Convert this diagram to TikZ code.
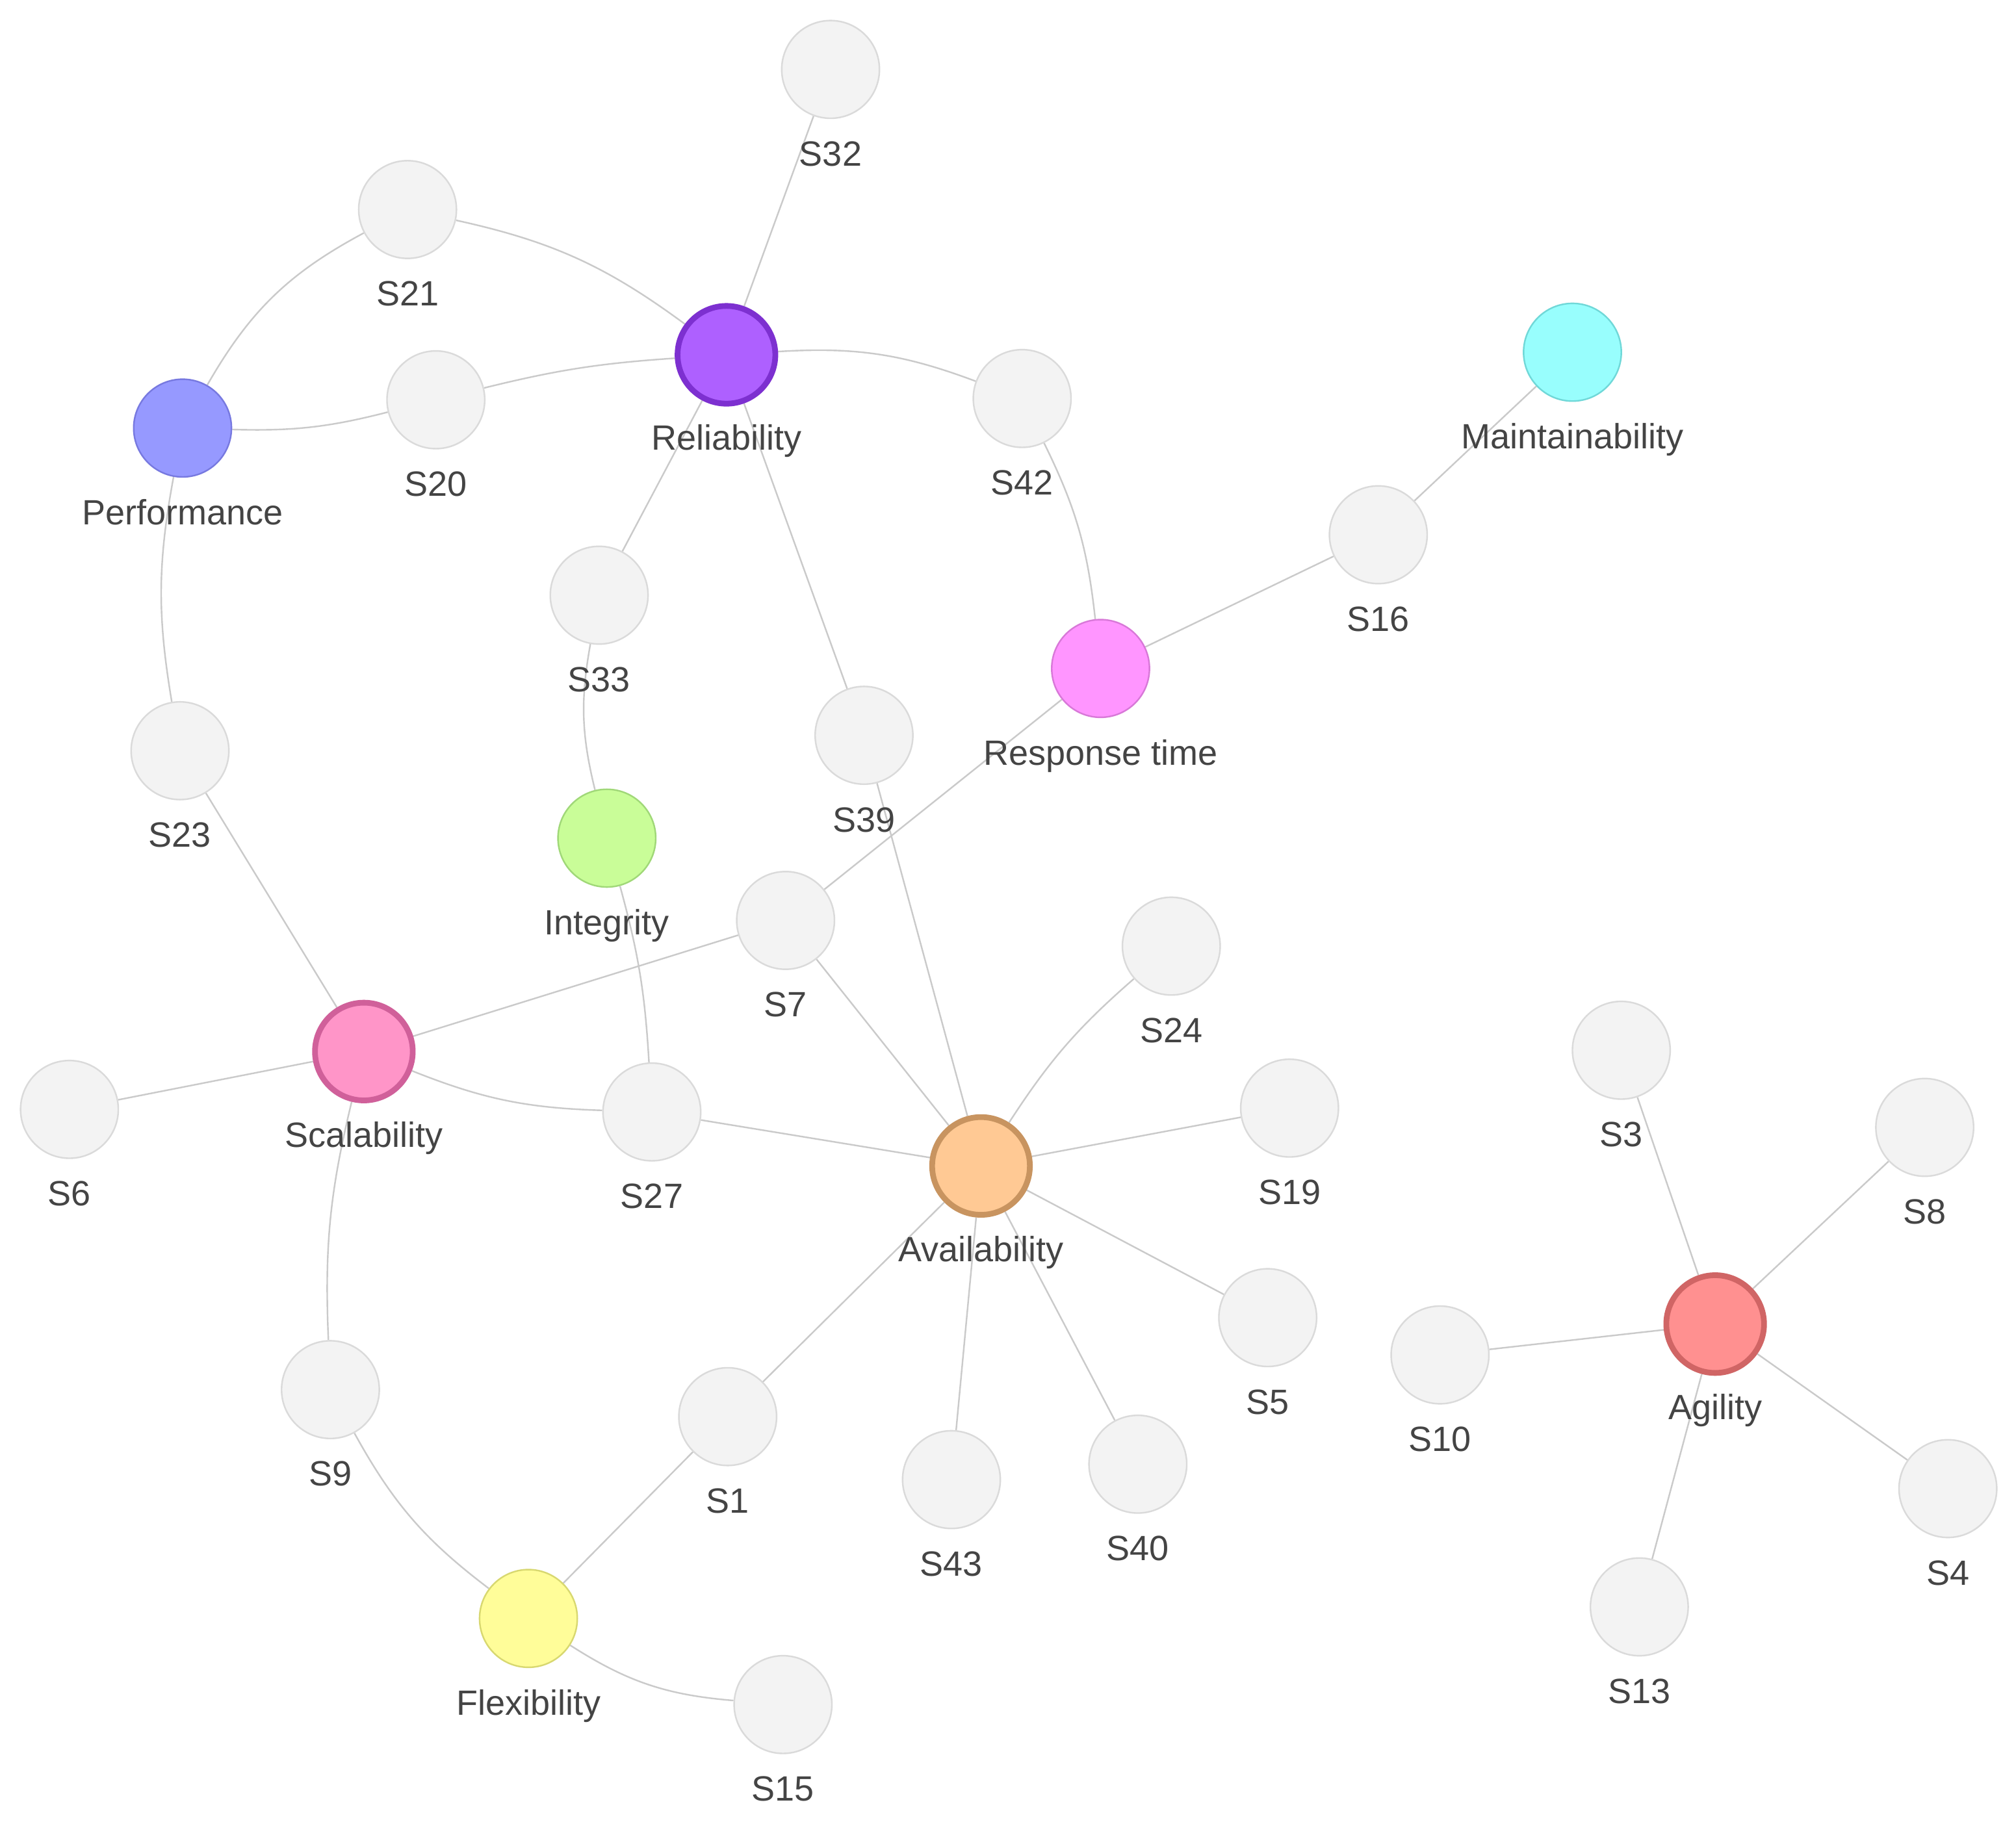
\documentclass[tikz,border=0pt]{standalone}
\usepackage{fontspec}
\setmainfont{Liberation Sans}
\usetikzlibrary{backgrounds}
\pgfdeclarelayer{bgfill}
\pgfsetlayers{bgfill,background,main}
\definecolor{edgec}{HTML}{CACACA}
\definecolor{labc}{HTML}{444444}
\definecolor{grayf}{HTML}{F3F3F3}
\definecolor{grayd}{HTML}{DADADA}
\definecolor{relf}{HTML}{AE60FF}
\definecolor{reld}{HTML}{7D30D0}
\definecolor{avf}{HTML}{FFC994}
\definecolor{avd}{HTML}{C89460}
\definecolor{agf}{HTML}{FF9090}
\definecolor{agd}{HTML}{D06565}
\definecolor{scf}{HTML}{FF95C8}
\definecolor{scd}{HTML}{D0609A}
\definecolor{perf}{HTML}{9699FF}
\definecolor{perd}{HTML}{7779E0}
\definecolor{maf}{HTML}{98FEFD}
\definecolor{mad}{HTML}{70D8D8}
\definecolor{ref}{HTML}{FF95FF}
\definecolor{red}{HTML}{D878D8}
\definecolor{inf}{HTML}{C9FD98}
\definecolor{ind}{HTML}{A0D878}
\definecolor{flf}{HTML}{FFFD99}
\definecolor{fld}{HTML}{D8D870}
\begin{document}
\begin{tikzpicture}[x=0.4946pt,y=-0.4946pt,
  base/.style={circle, minimum size=37.6pt, inner sep=0pt, line width=0.6pt},
  grayn/.style={base, fill=grayf, draw=grayd},
  big/.style={base, line width=2.2pt},
  lab/.style={anchor=base, label distance=18pt, font=\fontsize{13.5}{16}\selectfont, text=labc, inner sep=0pt},
  edge/.style={draw=edgec, line width=0.6pt}]
\begin{pgfonlayer}{bgfill}
\fill[white] (0,0) rectangle (1568,1417);
\end{pgfonlayer}
\useasboundingbox (0,0) rectangle (1568,1417);

% colored nodes
\node[big, fill=relf, draw=reld, label={[lab,name=RelL,label distance=16.8pt]below:Reliability}] (Rel) at (565,276) {};
\node[big, fill=avf, draw=avd, label={[lab,name=AvailL,label distance=16.8pt]below:Availability}] (Avail) at (763,907) {};
\node[big, fill=agf, draw=agd, label={[lab,name=AgilL,label distance=16.8pt]below:Agility}] (Agil) at (1334,1030) {};
\node[big, fill=scf, draw=scd, label={[lab,name=ScalL,label distance=16.8pt]below:Scalability}] (Scal) at (283,818) {};
\node[base, fill=perf, draw=perd, label={[lab,name=PerfL]below:Performance}] (Perf) at (142,333) {};
\node[base, fill=maf, draw=mad, label={[lab,name=MaintL]below:Maintainability}] (Maint) at (1223,274) {};
\node[base, fill=ref, draw=red, label={[lab,name=RespL]below:Response time}] (Resp) at (856,520) {};
\node[base, fill=inf, draw=ind, label={[lab,name=IntegL]below:Integrity}] (Integ) at (472,652) {};
\node[base, fill=flf, draw=fld, label={[lab,name=FlexL]below:Flexibility}] (Flex) at (411,1259) {};

% gray nodes
\node[grayn, label={[lab,name=S32L]below:S32}] (S32) at (646,54) {};
\node[grayn, label={[lab,name=S21L]below:S21}] (S21) at (317,163) {};
\node[grayn, label={[lab,name=S20L]below:S20}] (S20) at (339,311) {};
\node[grayn, label={[lab,name=S42L]below:S42}] (S42) at (795,310) {};
\node[grayn, label={[lab,name=S16L]below:S16}] (S16) at (1072,416) {};
\node[grayn, label={[lab,name=S33L]below:S33}] (S33) at (466,463) {};
\node[grayn, label={[lab,name=S23L]below:S23}] (S23) at (140,584) {};
\node[grayn, label={[lab,name=S39L]below:S39}] (S39) at (672,572) {};
\node[grayn, label={[lab,name=S7L]below:S7}] (S7) at (611,716) {};
\node[grayn, label={[lab,name=S24L]below:S24}] (S24) at (911,736) {};
\node[grayn, label={[lab,name=S6L]below:S6}] (S6) at (54,863) {};
\node[grayn, label={[lab,name=S27L]below:S27}] (S27) at (507,865) {};
\node[grayn, label={[lab,name=S19L]below:S19}] (S19) at (1003,862) {};
\node[grayn, label={[lab,name=S3L]below:S3}] (S3) at (1261,817) {};
\node[grayn, label={[lab,name=S8L]below:S8}] (S8) at (1497,877) {};
\node[grayn, label={[lab,name=S5L]below:S5}] (S5) at (986,1025) {};
\node[grayn, label={[lab,name=S10L]below:S10}] (S10) at (1120,1054) {};
\node[grayn, label={[lab,name=S9L]below:S9}] (S9) at (257,1081) {};
\node[grayn, label={[lab,name=S1L]below:S1}] (S1) at (566,1102) {};
\node[grayn, label={[lab,name=S43L]below:S43}] (S43) at (740,1151) {};
\node[grayn, label={[lab,name=S40L]below:S40}] (S40) at (885,1139) {};
\node[grayn, label={[lab,name=S4L]below:S4}] (S4) at (1515,1158) {};
\node[grayn, label={[lab,name=S13L]below:S13}] (S13) at (1275,1250) {};
\node[grayn, label={[lab,name=S15L]below:S15}] (S15) at (609,1326) {};

\begin{pgfonlayer}{background}
% curved edges
\draw[edge] (S21) to[bend left=12] (Rel);
\draw[edge] (S21) to[bend right=16] (Perf);
\draw[edge] (Perf) to[bend right=8] (S20);
\draw[edge] (S20) to[bend left=5] (Rel);
\draw[edge] (Rel) to[bend left=12] (S42);
\draw[edge] (S42) to[bend left=10] (Resp);
\draw[edge] (S33) to[bend right=12] (Integ);
\draw[edge] (Integ) to[bend left=6] (S27);
\draw[edge] (Perf) to[bend right=10] (S23);
\draw[edge] (Scal) to[bend right=10] (S27);
\draw[edge] (Scal) to[bend right=8] (S9);
\draw[edge] (S9) to[bend right=12] (Flex);
\draw[edge] (Flex) to[bend right=14] (S15);
\draw[edge] (Avail) to[bend left=8] (S24);
% straight edges
\draw[edge] (Rel) -- (S32);
\draw[edge] (Rel) -- (S33);
\draw[edge] (Rel) -- (S39);
\draw[edge] (S39) -- (Avail);
\draw[edge] (Resp) -- (S16);
\draw[edge] (S16) -- (Maint);
\draw[edge] (Resp) -- (S7);
\draw[edge] (S23) -- (Scal);
\draw[edge] (S7) -- (Scal);
\draw[edge] (S7) -- (Avail);
\draw[edge] (Scal) -- (S6);
\draw[edge] (S27) -- (Avail);
\draw[edge] (Flex) -- (S1);
\draw[edge] (S1) -- (Avail);
\draw[edge] (Avail) -- (S19);
\draw[edge] (Avail) -- (S5);
\draw[edge] (Avail) -- (S40);
\draw[edge] (Avail) -- (S43);
\draw[edge] (Agil) -- (S3);
\draw[edge] (Agil) -- (S8);
\draw[edge] (Agil) -- (S10);
\draw[edge] (Agil) -- (S4);
\draw[edge] (Agil) -- (S13);
\end{pgfonlayer}
\end{tikzpicture}
\end{document}
